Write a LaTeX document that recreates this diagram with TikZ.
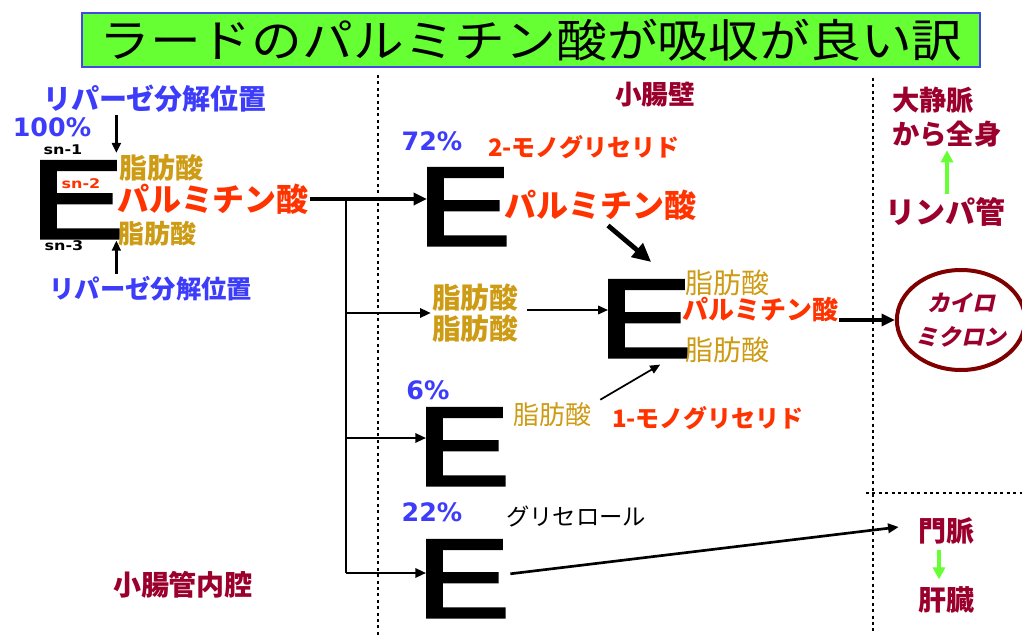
\documentclass[tikz,border=0pt]{standalone}
\usepackage{fontspec}
\usepackage{graphicx}
\usetikzlibrary{arrows.meta,shapes.geometric,calc}
\setmainfont{Liberation Sans}
\newfontfamily\jp{Noto Sans CJK JP}
\newfontfamily\jpsl{Noto Sans CJK JP}[FakeSlant=0.22]
\newfontfamily\dvs{DejaVu Sans}
\newfontfamily\libE{Liberation Sans}[FakeBold=2.5]
\definecolor{tblue}{RGB}{60,60,250}
\definecolor{tred}{RGB}{255,51,0}
\definecolor{tgold}{RGB}{205,155,20}
\definecolor{tmaroon}{RGB}{155,0,45}
\definecolor{ell}{RGB}{128,0,0}
\definecolor{tgreen}{RGB}{102,255,51}
\definecolor{tborder}{RGB}{70,70,230}
\tikzset{
  lbl/.style={inner sep=0.75pt},
  jb/.style={lbl, font=\jp\bfseries\fontsize{#1}{#1}\selectfont},
  jr/.style={lbl, font=\jp\fontsize{#1}{#1}\selectfont},
  pct/.style={lbl, text=tblue, font=\dvs\bfseries\fontsize{19}{19}\selectfont},
  snlab/.style={lbl, xscale=1.2, font=\dvs\bfseries\fontsize{10}{10}\selectfont},
  Eglyph/.style={anchor=north west, inner xsep=-5.9pt, inner ysep=0pt, xscale=1.25, font=\libE\fontsize{84}{84}\selectfont},
  dotline/.style={line width=2.2pt, dash pattern=on 2.2pt off 2.6pt},
  conn/.style={line width=1.6pt},
  arrL/.style={line width=2.5pt, -{Triangle[length=10pt,width=9pt]}},
  arrM/.style={line width=1.6pt, -{Triangle[length=8pt,width=7pt]}},
  arrS/.style={line width=1.3pt, -{Triangle[length=7.5pt,width=6.5pt]}},
  arrB/.style={line width=3.6pt, -{Triangle[length=14pt,width=13pt]}},
  garr/.style={line width=2.8pt, tgreen, -{Triangle[length=9pt,width=9pt]}},
}
\begin{document}
\begin{tikzpicture}[x=0.75pt,y=-0.75pt]
\useasboundingbox (0,0) rectangle (1022,635);
\fill[white] (0,0) rectangle (1022,635);

% title
\node[draw=tborder, line width=1.1pt, fill=tgreen, minimum width=898*0.75pt, minimum height=54*0.75pt, inner sep=0pt, font=\jp\fontsize{34}{34}\selectfont] (title) at (531,40) {\scalebox{1.12}[1]{ラードのパルミチン酸が吸収が良い訳}};

% dotted separators
\coordinate (d1t) at (378,75); \coordinate (d1b) at (378,635);
\coordinate (d2t) at (873,78); \coordinate (d2b) at (873,635);
\coordinate (d3l) at (866,493); \coordinate (d3r) at (1022,493);
\draw[dotline] (d1t) -- (d1b);
\draw[dotline] (d2t) -- (d2b);
\draw[dotline] (d3l) -- (d3r);

% left: triglyceride
\node[jb=21, text=tblue] (lipT) at (155,99) {リパーゼ分解位置};
\node[pct] (p100) at (52,127) {100\%};
\node[snlab] (sn1) at (63,150) {sn-1};
\node[Eglyph] (E0) at (40,161) {E};
\node[snlab, text=tred] (sn2) at (81,184) {sn-2};
\node[snlab] (sn3) at (64,246) {sn-3};
\node[jb=21, text=tgold] (faL1) at (161,168) {脂肪酸};
\node[jb=24, text=tred] (palL) at (213,199) {パルミチン酸};
\node[jb=19.5, text=tgold] (faL3) at (157,234) {脂肪酸};
\node[jb=19, text=tblue] (lipB) at (151,289) {リパーゼ分解位置};
\node[jb=21, text=tmaroon] (lumen) at (183,585) {小腸管内腔};

\draw[arrS, line width=2pt] ($(lipT.south -| E0.north east)+(2,1)$) -- ($(E0.north east)+(2,-8)$);
\draw[arrS, line width=2pt] ($(lipB.north -| E0.south east)+(2,-1)$) -- ($(E0.south east)+(2,2)$);

% middle
\node[jb=20, text=tmaroon] (wall) at (655,95) {小腸壁};
\node[pct] (p72) at (432,141) {72\%};
\node[jb=18, text=tred] (mg2) at (584,147) {2-モノグリセリド};
\node[Eglyph] (E1) at (427,168) {E};
\node[jb=24, text=tred] (palM) at (600,205) {パルミチン酸};
\node[lbl, text=tgold, align=center, font=\jp\bfseries\fontsize{21.5}{23}\selectfont] (fa2) at (475,313) {脂肪酸\\脂肪酸};
\node[Eglyph] (E2) at (608,280) {E};
\node[jr=21, text=tgold] (fr1) at (727,283) {脂肪酸};
\node[jb=19.5, text=tred] (palR) at (760,310) {パルミチン酸};
\node[jr=21, text=tgold] (fr3) at (727,350) {脂肪酸};
\node[pct] (p6) at (428,390) {6\%};
\node[Eglyph] (E3) at (426,408) {E};
\node[jr=19.5, text=tgold] (fa3) at (552,415) {脂肪酸};
\node[jb=18, text=tred] (mg1) at (708,418) {1-モノグリセリド};
\node[pct] (p22) at (432,512) {22\%};
\node[jr=17.5] (gly) at (576,517) {グリセロール};
\node[Eglyph] (E4) at (426,540) {E};

% right
\node[lbl, text=tmaroon, align=left, anchor=west, font=\jp\bfseries\fontsize{20.5}{25.5}\selectfont] (vena) at (891,117) {大静脈\\から全身};
\node[jb=22.5, text=tmaroon] (lymph) at (945,212) {リンパ管};
\node[ellipse, draw=ell, line width=3pt, fill=white, minimum width=94.5pt, minimum height=75pt, inner sep=0pt, text=tmaroon, align=center, font=\jpsl\bfseries\fontsize{17}{26}\selectfont] (chylo) at (961,320) {カイロ\\ミクロン};
\node[jb=21, text=tmaroon] (portal) at (946,531) {門脈};
\node[jb=21, text=tmaroon] (liver) at (946,600) {肝臓};

% connectors
\coordinate (vx) at (346,0);
\coordinate (J) at (palL.east -| vx);
\coordinate (b3) at (346,438);
\coordinate (b4) at (346,573);
\draw[arrL] (palL.east) -- (palL.east -| E1.west);
\draw[conn] (J) -- (b4);
\draw[arrM] (J |- fa2.west) -- (fa2.west);
\draw[arrM] (b3) -- (b3 -| E3.west);
\draw[arrM] (b4) -- (b4 -| E4.west);
\draw[arrB] ($(palM.south)+(8,4)$) -- ($(E2.north)+(6,-18)$);
\draw[arrS] ($(fa2.east)+(8,-3)$) -- ($(fa2.east -| E2.west)+(0,-3)$);
\draw[arrS] ($(fa3.north east)+(8,-2)$) -- ($(E2.south)+(15,7)$);
\draw[arrL, line width=3pt] (palR.east |- chylo.west) -- (chylo.west);
\draw[arrM, line width=2pt] ($(E4.east)+(10,-5)$) -- ($(portal.west)+(-18,-4)$);
\draw[garr] ($(lymph.north)+(2,-2)$) -- ($(lymph.north |- vena.south)+(2,2)$);
\draw[garr] ($(portal.south)+(-7,4)$) -- ($(liver.north)+(-7,-6)$);
\end{tikzpicture}
\end{document}
